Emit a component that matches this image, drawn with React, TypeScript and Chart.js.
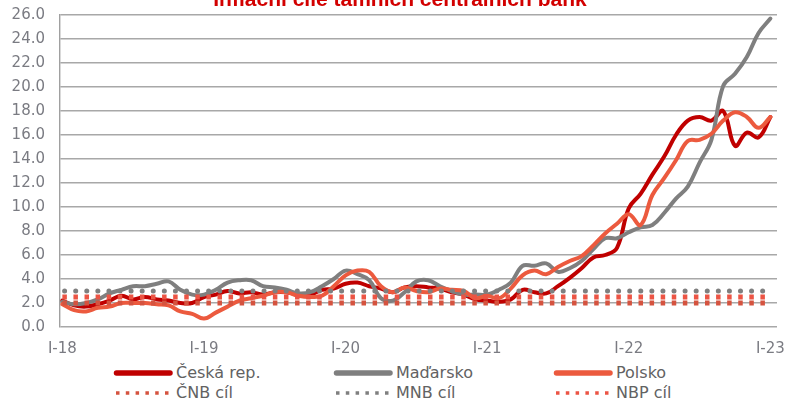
import React, { useEffect, useRef } from 'react';
import { Chart, registerables } from 'chart.js';

Chart.register(...registerables);

// ---- data -------------------------------------------------------------
const titleText = 'Inflační cíle tamních centrálních bank';

// x tick labels, one per January (every 12 months), Jan 2018 .. Jan 2023
const xTickLabels = ['I-18', 'I-19', 'I-20', 'I-21', 'I-22', 'I-23'];

// monthly y/y inflation, Jan 2018 .. Jan 2023 (61 months)
const ceskaRep = [
  2.2, 1.8, 1.7, 1.9, 2.2, 2.6, 2.3, 2.5, 2.3, 2.2, 2.0, 2.0,
  2.5, 2.7, 3.0, 2.8, 2.9, 2.7, 2.9, 2.9, 2.7, 2.7, 3.1, 3.2,
  3.6, 3.7, 3.4, 3.2, 2.9, 3.3, 3.4, 3.3, 3.2, 2.9, 2.7, 2.3,
  2.2, 2.1, 2.3, 3.1, 2.9, 2.8, 3.4, 4.1, 4.9, 5.8, 6.0, 6.6,
  9.9, 11.1, 12.7, 14.2, 16.0, 17.2, 17.5, 17.2, 18.0, 15.1, 16.2, 15.8,
  17.5,
];
const madarsko = [
  2.1, 1.9, 2.0, 2.3, 2.8, 3.1, 3.4, 3.4, 3.6, 3.8, 3.1, 2.7,
  2.7, 3.1, 3.7, 3.9, 3.9, 3.4, 3.3, 3.1, 2.8, 2.9, 3.4, 4.0,
  4.7, 4.4, 3.9, 2.4, 2.2, 2.9, 3.8, 3.9, 3.4, 3.0, 2.7, 2.7,
  2.7, 3.1, 3.7, 5.1, 5.1, 5.3, 4.6, 4.9, 5.5, 6.5, 7.4, 7.4,
  7.9, 8.3, 8.5, 9.5, 10.7, 11.7, 13.7, 15.6, 20.1, 21.1, 22.5, 24.5,
  25.7,
];
const polsko = [
  1.9, 1.4, 1.3, 1.6, 1.7, 2.0, 2.0, 2.0, 1.9, 1.8, 1.3, 1.1,
  0.7, 1.2, 1.7, 2.2, 2.4, 2.6, 2.9, 2.9, 2.6, 2.5, 2.6, 3.4,
  4.3, 4.7, 4.6, 3.4, 2.9, 3.3, 3.0, 2.9, 3.2, 3.1, 3.0, 2.4,
  2.6, 2.4, 3.2, 4.3, 4.7, 4.4, 5.0, 5.5, 5.9, 6.8, 7.8, 8.6,
  9.4, 8.5, 11.0, 12.4, 13.9, 15.5, 15.6, 16.1, 17.2, 17.9, 17.5, 16.6,
  17.5,
];

// inflation targets
const cnbCil = 2.0;
const mnbCil = 3.0;
const nbpCil = 2.5;

const seriesNames = ['Česká rep.', 'Maďarsko', 'Polsko', 'ČNB cíl', 'MNB cíl', 'NBP cíl'];

// ---- styles -----------------------------------------------------------
const colCz = '#C00000';
const colHu = '#7F7F7F';
const colPl = '#EC5A3E';
const colCnb = '#D5533F';
const colMnb = '#7F7F7F';
const colNbp = '#EC5444';
const tickColor = '#7a7b82';
const legendTextColor = '#626262';

const toPoints = (arr: number[]) => arr.map((v, i) => ({ x: i, y: v }));
const lastIndex = ceskaRep.length - 1;
const flat = (v: number) => [{ x: 0, y: v }, { x: lastIndex, y: v }];

const titlePlugin = {
  id: 'clippedTitle',
  afterDraw(chart: any) {
    const ctx = chart.ctx;
    ctx.save();
    ctx.font = 'bold 21px "Liberation Sans", Arial, sans-serif';
    ctx.fillStyle = '#D20000';
    ctx.textAlign = 'center';
    ctx.textBaseline = 'alphabetic';
    ctx.fillText(titleText, 400, 6);
    ctx.restore();
  },
};

const legendItems = [
  { name: seriesNames[0], color: colCz, dotted: false },
  { name: seriesNames[1], color: colHu, dotted: false },
  { name: seriesNames[2], color: colPl, dotted: false },
  { name: seriesNames[3], color: colCnb, dotted: true },
  { name: seriesNames[4], color: colMnb, dotted: true },
  { name: seriesNames[5], color: colNbp, dotted: true },
];

function Legend() {
  return (
    <>
      {legendItems.map((it, k) => {
        const col = k % 3;
        const row = Math.floor(k / 3);
        return (
          <div
            key={it.name}
            style={{
              position: 'absolute',
              left: 112 + col * 220,
              top: 363 + row * 20,
              height: 20,
              display: 'flex',
              alignItems: 'center',
              whiteSpace: 'nowrap',
            }}
          >
            <svg width={62} height={10} style={{ display: 'block' }}>
              {it.dotted ? (
                <line
                  x1={4}
                  y1={5}
                  x2={58}
                  y2={5}
                  stroke={it.color}
                  strokeWidth={3.5}
                  strokeDasharray="3.5 6.3"
                />
              ) : (
                <line
                  x1={4.5}
                  y1={5}
                  x2={58}
                  y2={5}
                  stroke={it.color}
                  strokeWidth={5.5}
                  strokeLinecap="round"
                />
              )}
            </svg>
            <span
              style={{
                fontFamily: '"DejaVu Sans", sans-serif',
                fontSize: 16,
                color: legendTextColor,
                marginLeft: 2,
                lineHeight: '20px',
              }}
            >
              {it.name}
            </span>
          </div>
        );
      })}
    </>
  );
}

export default function App() {
  const canvasRef = useRef<HTMLCanvasElement | null>(null);

  useEffect(() => {
    if (!canvasRef.current) return;
    const lineBase = {
      pointRadius: 0,
      pointHoverRadius: 0,
      tension: 0.4,
      fill: false,
      borderWidth: 4,
      borderJoinStyle: 'round' as const,
      borderCapStyle: 'round' as const,
    };
    const chart = new Chart(canvasRef.current, {
      type: 'line',
      data: {
        datasets: [
          {
            ...lineBase,
            label: seriesNames[3],
            data: flat(cnbCil),
            borderColor: colCnb,
            borderWidth: 5,
            borderDash: [4.5, 6.58],
            borderDashOffset: 0,
            borderCapStyle: 'butt',
            tension: 0,
            order: 0,
          },
          {
            ...lineBase,
            label: seriesNames[4],
            data: flat(mnbCil),
            borderColor: colMnb,
            borderWidth: 5,
            borderDash: [0.01, 11.07],
            borderDashOffset: -2.25,
            borderCapStyle: 'round',
            tension: 0,
            order: 0,
          },
          {
            ...lineBase,
            label: seriesNames[5],
            data: flat(nbpCil),
            borderColor: colNbp,
            borderWidth: 5,
            borderDash: [4.5, 6.58],
            borderDashOffset: 0,
            borderCapStyle: 'butt',
            tension: 0,
            order: 0,
          },
          { ...lineBase, label: seriesNames[2], data: toPoints(polsko), borderColor: colPl, order: 1 },
          { ...lineBase, label: seriesNames[1], data: toPoints(madarsko), borderColor: colHu, order: 2 },
          { ...lineBase, label: seriesNames[0], data: toPoints(ceskaRep), borderColor: colCz, order: 3 },
        ] as any,
      },
      options: {
        animation: false,
        responsive: true,
        maintainAspectRatio: false,
        layout: { autoPadding: false, padding: { top: 15, right: 9, left: 0, bottom: 0 } },
        plugins: {
          legend: { display: false },
          title: { display: false },
          tooltip: { enabled: false },
        },
        scales: {
          x: {
            type: 'linear',
            min: -0.2,
            max: 60.56,
            afterBuildTicks: (s: any) => {
              s.ticks = xTickLabels.map((_, k) => ({ value: k * 12 }));
            },
            afterFit: (s: any) => {
              s.height = 33;
              s.paddingLeft = 0;
              s.paddingRight = 0;
              s.paddingTop = 0;
              s.paddingBottom = 0;
            },
            ticks: {
              callback: (v: any) => xTickLabels[Math.round(Number(v) / 12)],
              color: tickColor,
              font: { family: '"DejaVu Sans", sans-serif', size: 15 },
              padding: 13,
              maxRotation: 0,
              autoSkip: false,
            },
            grid: { display: false, drawTicks: false },
            border: { display: false },
          },
          y: {
            min: 0,
            max: 26,
            afterFit: (s: any) => {
              s.width = 60;
              s.paddingLeft = 0;
              s.paddingRight = 0;
              s.paddingTop = 0;
              s.paddingBottom = 0;
            },
            ticks: {
              stepSize: 2,
              callback: (v: any) => Number(v).toFixed(1),
              color: tickColor,
              font: { family: '"DejaVu Sans", sans-serif', size: 15 },
              padding: 15,
            },
            grid: { color: '#A8A8A8', lineWidth: 1.4, drawTicks: false },
            border: { display: true, color: '#A0A0A0', width: 1.4 },
          },
        },
      } as any,
      plugins: [titlePlugin],
    });
    return () => chart.destroy();
  }, []);

  return (
    <div style={{ position: 'absolute', left: 0, top: 0, width: 786, height: 402, background: '#fff', overflow: 'hidden' }}>
      <div style={{ position: 'absolute', left: 0, top: 0, width: 786, height: 360 }}>
        <canvas ref={canvasRef} />
      </div>
      <Legend />
    </div>
  );
}
